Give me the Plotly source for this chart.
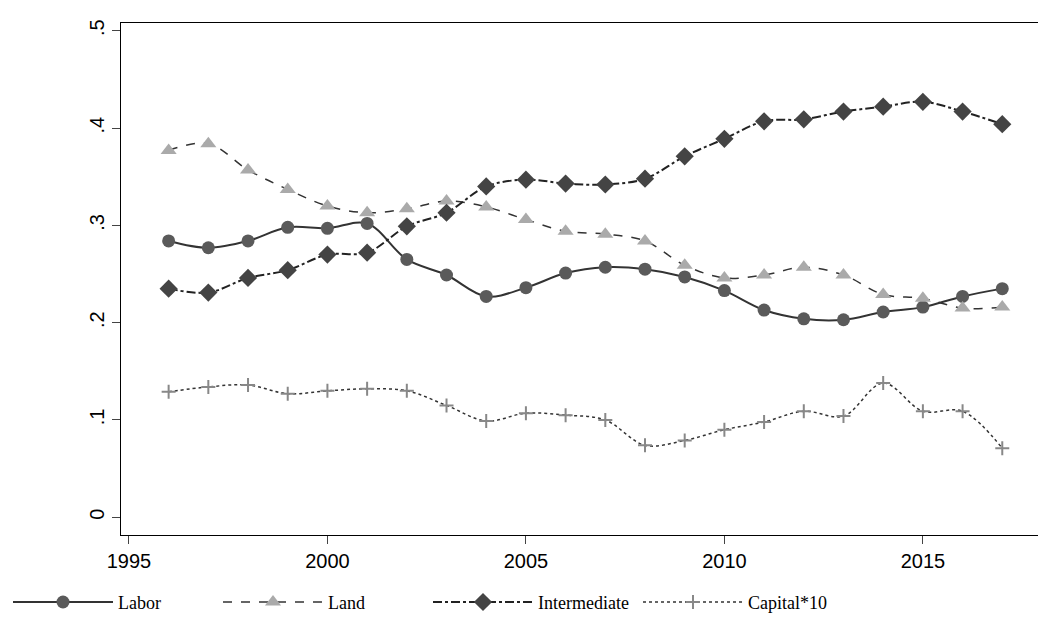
import plotly.graph_objects as go

years = list(range(1996, 2018))
labor = [.284, .277, .284, .298, .297, .302, .265, .249, .227, .236, .251, .257, .255, .247, .233, .213, .204, .203, .211, .216, .227, .235]
land = [.377, .384, .357, .337, .320, .313, .317, .325, .319, .306, .294, .291, .284, .259, .246, .249, .257, .249, .229, .225, .215, .216]
intermediate = [.235, .231, .246, .254, .270, .272, .299, .313, .340, .347, .343, .342, .348, .371, .389, .407, .409, .417, .422, .427, .417, .404]
capital10 = [.129, .134, .136, .127, .130, .132, .130, .115, .099, .107, .105, .100, .074, .079, .090, .098, .109, .104, .138, .109, .109, .071]

fig = go.Figure()
fig.add_trace(go.Scatter(x=years, y=labor, name="Labor", mode="lines+markers",
                         line=dict(color="#333333", width=2, shape="spline"),
                         marker=dict(symbol="circle", size=13, color="#5a5a5a")))
fig.add_trace(go.Scatter(x=years, y=land, name="Land", mode="lines+markers",
                         line=dict(color="#333333", width=1.5, dash="dash", shape="spline"),
                         marker=dict(symbol="triangle-up", size=14, color="#aaaaaa")))
fig.add_trace(go.Scatter(x=years, y=intermediate, name="Intermediate", mode="lines+markers",
                         line=dict(color="#222222", width=2, dash="dashdot", shape="spline"),
                         marker=dict(symbol="diamond", size=14, color="#444444")))
fig.add_trace(go.Scatter(x=years, y=capital10, name="Capital*10", mode="lines+markers",
                         line=dict(color="#333333", width=1.5, dash="dot", shape="spline"),
                         marker=dict(symbol="cross-thin", size=10, color="#888888",
                                     line=dict(color="#888888", width=2))))

fig.update_layout(
    width=1046, height=619, plot_bgcolor="white", paper_bgcolor="white",
    margin=dict(l=113, r=16, t=14, b=86),
    font=dict(family="Liberation Sans, Arial", size=20, color="black"),
    legend=dict(orientation="h", xref="container", yref="container",
                x=0, xanchor="left", y=0.01, yanchor="bottom",
                font=dict(family="Liberation Serif, Times New Roman", size=18),
                itemwidth=100, entrywidth=95, entrywidthmode="pixels", tracegroupgap=0),
)
fig.update_xaxes(range=[1994.8, 2017.9], tickvals=[1995, 2000, 2005, 2010, 2015],
                 showline=True, linecolor="black", mirror=True, ticks="outside",
                 ticklen=8, showgrid=False, zeroline=False)
fig.update_yaxes(range=[-0.018, 0.508], tickvals=[0, .1, .2, .3, .4, .5],
                 ticktext=["0", ".1", ".2", ".3", ".4", ".5"], tickangle=-90,
                 showline=True, linecolor="black", mirror=True, ticks="outside",
                 ticklen=8, showgrid=False, zeroline=False)

fig.write_html("out.html")
